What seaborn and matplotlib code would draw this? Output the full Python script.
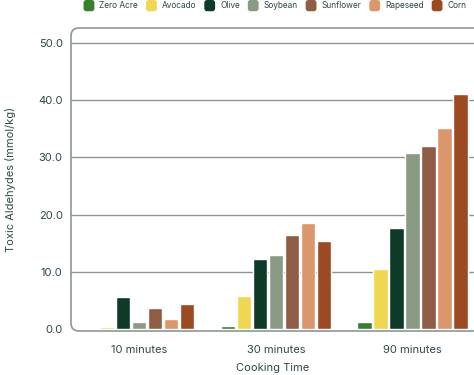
import pandas as pd
import matplotlib.pyplot as plt
import seaborn as sns
from matplotlib.patches import FancyBboxPatch, Patch
from matplotlib.legend_handler import HandlerPatch

times = ["10 minutes", "30 minutes", "90 minutes"]
oils = ["Zero Acre", "Avocado", "Olive", "Soybean", "Sunflower", "Rapeseed", "Corn"]
zero_acre = [0.0, 0.5, 1.2]
avocado = [0.3, 5.8, 10.4]
olive = [5.6, 12.3, 17.6]
soybean = [1.2, 12.9, 30.7]
sunflower = [3.6, 16.5, 32.0]
rapeseed = [1.7, 18.5, 35.1]
corn = [4.4, 15.3, 41.0]
colors = ["#3b7d2e", "#f0d752", "#0e3b27", "#8a9a83", "#8f5c45", "#db966c", "#9c4a22"]

series = [zero_acre, avocado, olive, soybean, sunflower, rapeseed, corn]
rows = []
for oil, vals in zip(oils, series):
    for t, v in zip(times, vals):
        rows.append({"time": t, "oil": oil, "value": v})
df = pd.DataFrame(rows)

sns.set_style("white")
plt.rcParams["font.family"] = ["Inter", "DejaVu Sans"]
text_color = "#2c4a40"
grid_color = "#8c9792"

fig = plt.figure(figsize=(4.74, 3.75), dpi=100)
ax = fig.add_axes([71 / 474, 1 - 331 / 375, 1 - 71 / 474, (331 - 28) / 375])

sns.barplot(data=df, x="time", y="value", hue="oil", hue_order=oils, order=times,
            palette=colors, width=0.82, gap=0.12, ax=ax, legend=False, saturation=1)

ax.set_xlim(-0.5, 2.45)
ax.set_ylim(-0.35, 52.6)
ax.set_yticks([0, 10, 20, 30, 40, 50])
ax.set_yticklabels([f"{v:.1f}" for v in [0, 10, 20, 30, 40, 50]])
for y in [10, 20, 30, 40, 50]:
    ax.axhline(y, color=grid_color, lw=1, zorder=0)
for s in ax.spines.values():
    s.set_visible(False)

frame = FancyBboxPatch((0, 0), 1.05, 1, boxstyle="round,pad=0,rounding_size=0.02",
                       transform=ax.transAxes, fill=False, ec=grid_color, lw=1.2,
                       clip_on=False, mutation_aspect=1.3)
ax.add_patch(frame)

ax.tick_params(length=0, labelsize=8, colors=text_color, pad=6)
ax.tick_params(axis="x", pad=10)
ax.set_xlabel("Cooking Time", fontsize=8, color=text_color, labelpad=6)
ax.set_ylabel("Toxic Aldehydes (mmol/kg)", fontsize=8, color=text_color, labelpad=16)


def rounded_handle(legend, orig_handle, xdescent, ydescent, width, height, fontsize):
    return FancyBboxPatch((-xdescent, -ydescent), width, height,
                          boxstyle="round,pad=0,rounding_size=2")


handles = [Patch(fc=c, ec="none") for c in colors]
fig.legend(handles, oils, loc="upper right", bbox_to_anchor=(1.0, 1.02), ncol=7,
           frameon=False, fontsize=6, handlelength=1.3, handleheight=1.7,
           handletextpad=0.6, columnspacing=0.95, labelcolor=text_color,
           handler_map={Patch: HandlerPatch(patch_func=rounded_handle)})

fig.savefig("out.png", dpi=100)
